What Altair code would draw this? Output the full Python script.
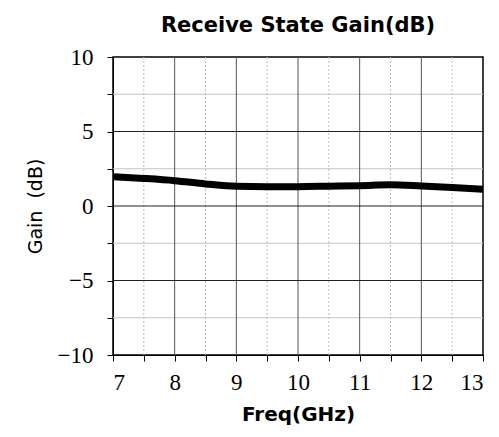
import altair as alt
import pandas as pd

freq = [7.0, 7.5, 8.0, 8.5, 9.0, 9.5, 10.0, 10.5, 11.0, 11.5, 12.0, 12.5, 13.0]
gain = [1.97, 1.85, 1.70, 1.48, 1.32, 1.30, 1.30, 1.33, 1.36, 1.42, 1.34, 1.24, 1.12]

major_x = [8, 9, 10, 11, 12]
minor_x = [7.5, 8.5, 9.5, 10.5, 11.5, 12.5]
major_y = [-5, 0, 5]
minor_y = [-7.5, -2.5, 2.5, 7.5]
x_ticks = [7, 7.5, 8, 8.5, 9, 9.5, 10, 10.5, 11, 11.5, 12, 12.5, 13]
y_ticks = [-10, -7.5, -5, -2.5, 0, 2.5, 5, 7.5, 10]

df = pd.DataFrame({"freq": freq, "gain": gain})

xs = alt.Scale(domain=[7, 13], nice=False, zero=False)
ys = alt.Scale(domain=[-10, 10], nice=False, zero=False)

xaxis = alt.Axis(
    values=x_ticks, grid=False, tickSize=6, tickColor="black", domainColor="black",
    labelExpr="datum.value % 1 == 0 ? format(datum.value, 'd') : ''",
    labelFont="Liberation Serif", labelFontSize=23, labelColor="black", labelPadding=10,
    title="Freq(GHz)", titleFont="DejaVu Sans", titleFontSize=20, titleFontWeight="bold",
    titleColor="black", titlePadding=10,
)
yaxis = alt.Axis(
    values=y_ticks, grid=False, tickSize=6, tickColor="black", domainColor="black",
    labelExpr="datum.value % 5 == 0 ? format(datum.value, 'd') : ''",
    labelFont="Liberation Serif", labelFontSize=23, labelColor="black", labelPadding=14,
    title="Gain\u00a0\u00a0(dB)", titleFont="DejaVu Sans", titleFontSize=19, titleFontWeight="normal",
    titleColor="black", titlePadding=12,
)

line = alt.Chart(df).mark_line(color="black", strokeWidth=7, interpolate="monotone").encode(
    x=alt.X("freq:Q", scale=xs, axis=xaxis),
    y=alt.Y("gain:Q", scale=ys, axis=yaxis),
)

def vrules(vals, color, dash=None):
    d = pd.DataFrame({"freq": vals})
    kw = dict(color=color, strokeWidth=1)
    if dash:
        kw["strokeDash"] = dash
    return alt.Chart(d).mark_rule(**kw).encode(x=alt.X("freq:Q", scale=xs, axis=xaxis))

def hrules(vals, color):
    d = pd.DataFrame({"gain": vals})
    return alt.Chart(d).mark_rule(color=color, strokeWidth=1).encode(
        y=alt.Y("gain:Q", scale=ys, axis=yaxis))

chart = alt.layer(
    vrules(minor_x, "#bdbdbd", [2, 2]),
    hrules(minor_y, "#c4c4c4"),
    vrules(major_x, "#555555"),
    hrules(major_y, "#222222"),
    line,
).properties(
    width=370, height=298,
    title=alt.TitleParams("Receive State Gain(dB)", font="DejaVu Sans", fontSize=21,
                          fontWeight="bold", color="black", anchor="middle", offset=10),
    autosize=alt.AutoSizeParams(type="none"),
    padding={"left": 105, "top": 49, "right": 8, "bottom": 74},
).configure_view(stroke="black", strokeWidth=1.5)

chart.save("out.html", embed_options={"renderer": "svg", "actions": False})
